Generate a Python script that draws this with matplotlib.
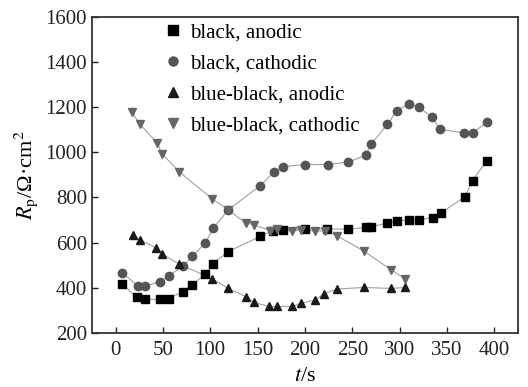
import matplotlib
matplotlib.use('Agg')
import matplotlib.pyplot as plt
from matplotlib.lines import Line2D

plt.rcParams['font.family'] = ['Liberation Serif', 'DejaVu Serif']
plt.rcParams['mathtext.fontset'] = 'stix'

# black, anodic
t_ba = [7, 23, 31, 47, 56, 71, 81, 95, 103, 119, 153, 166, 177, 200, 223, 246,
        265, 270, 287, 297, 310, 321, 335, 344, 369, 377, 392]
rp_ba = [415, 357, 348, 348, 352, 382, 413, 461, 507, 560, 628, 652, 656, 661,
         661, 659, 667, 670, 687, 695, 701, 701, 711, 733, 803, 875, 963]

# black, cathodic
t_bc = [7, 24, 31, 47, 56, 71, 81, 95, 103, 119, 153, 167, 177, 200, 224, 246,
        264, 270, 287, 297, 310, 320, 334, 343, 368, 377, 392]
rp_bc = [467, 406, 406, 427, 452, 495, 539, 599, 663, 745, 853, 912, 937, 946,
         946, 957, 987, 1037, 1124, 1184, 1216, 1201, 1157, 1102, 1086, 1086, 1133]

# blue-black, anodic
t_bba = [18, 26, 43, 49, 67, 102, 119, 138, 146, 162, 170, 186, 196, 211, 220,
         234, 262, 291, 306]
rp_bba = [634, 612, 576, 550, 505, 440, 397, 360, 335, 317, 317, 317, 330, 347,
          372, 394, 401, 397, 401]

# blue-black, cathodic
t_bbc = [17, 26, 44, 49, 67, 102, 119, 138, 146, 163, 170, 186, 196, 211, 221,
         234, 262, 291, 306]
rp_bbc = [1179, 1124, 1041, 994, 915, 794, 745, 686, 680, 653, 661, 650, 658,
          650, 653, 630, 563, 480, 439]

series = [
    (t_ba, rp_ba, 's', '#000000', 'black, anodic'),
    (t_bc, rp_bc, 'o', '#555555', 'black, cathodic'),
    (t_bba, rp_bba, '^', '#1a1a1a', 'blue-black, anodic'),
    (t_bbc, rp_bbc, 'v', '#666666', 'blue-black, cathodic'),
]

fig = plt.figure(figsize=(5.28, 3.87), dpi=100)
ax = fig.add_axes([0.174, 0.140, 0.807, 0.816])

handles = []
for t, rp, mk, col, lab in series:
    ax.plot(t, rp, color='#a0a0a0', lw=0.8, zorder=1)
    ax.plot(t, rp, linestyle='none', marker=mk, ms=6, color=col,
            markeredgecolor=col, zorder=2)
    handles.append(Line2D([], [], linestyle='none', marker=mk, ms=6.5,
                          color=col, label=lab))

ax.set_xlim(-25, 425)
ax.set_ylim(200, 1600)
ax.set_xticks([0, 50, 100, 150, 200, 250, 300, 350, 400])
ax.set_yticks([200, 400, 600, 800, 1000, 1200, 1400, 1600])
ax.tick_params(direction='in', length=4, width=1, labelsize=15, colors='#222222')
ax.tick_params(axis='x', pad=6)
for sp in ax.spines.values():
    sp.set_linewidth(1.3)
    sp.set_color('#333333')

ax.set_xlabel(r'$t$/s', fontsize=16, labelpad=5)
ax.set_ylabel(r'$R_{\mathrm{p}}$/Ω·cm$^2$', fontsize=16, labelpad=4)

ax.legend(handles=handles, loc='upper left', bbox_to_anchor=(0.123, 1.04),
          frameon=False, fontsize=15, handletextpad=0.3, labelspacing=0.54,
          handlelength=1.0)

fig.savefig('out.png', dpi=100)
